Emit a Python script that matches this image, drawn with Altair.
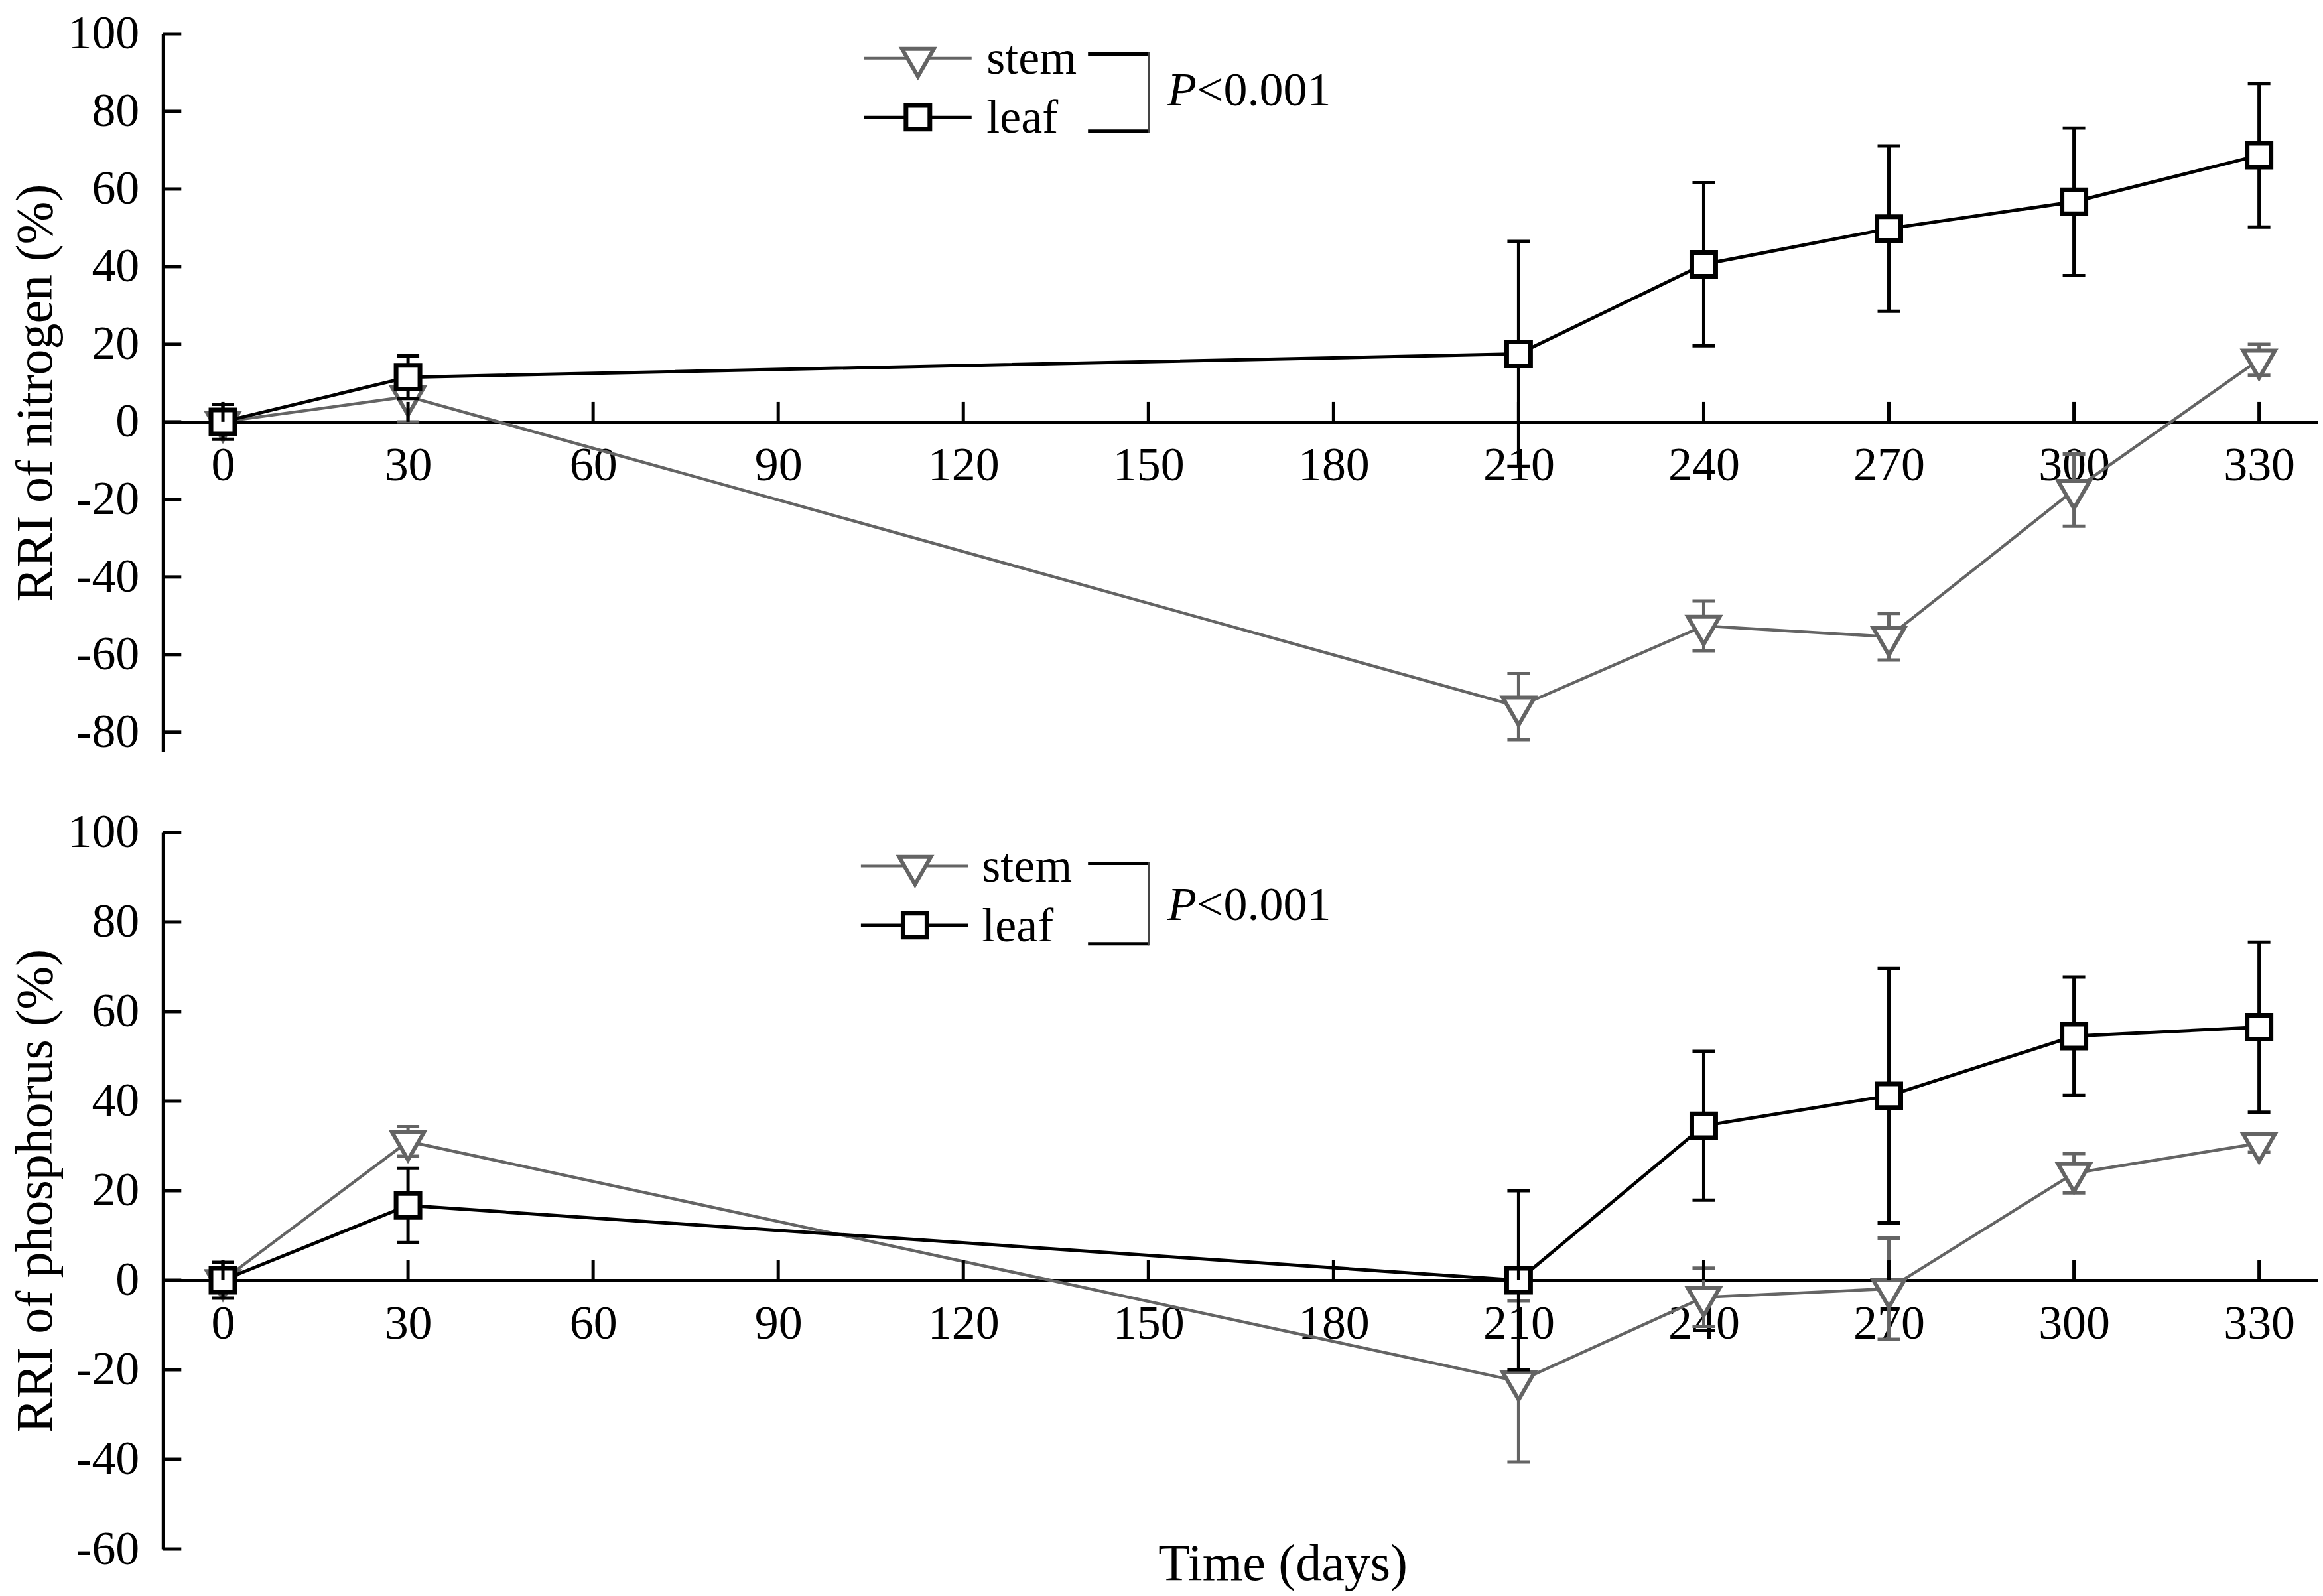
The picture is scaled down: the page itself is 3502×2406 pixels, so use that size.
import altair as alt
import pandas as pd

# ---------------- data ----------------
days = [0, 30, 210, 240, 270, 300, 330]

n_stem = [0.0, 6.5, -73.4, -52.6, -55.4, -17.6, 16.0]
n_stem_err = [3.0, 6.5, 8.5, 6.4, 6.0, 9.3, 4.0]
n_leaf = [0.0, 11.5, 17.5, 40.6, 49.8, 56.7, 68.7]
n_leaf_err = [4.5, 5.5, 29.0, 21.0, 21.3, 19.0, 18.5]

p_stem = [0.0, 31.0, -22.6, -3.8, -1.9, 23.9, 30.6]
p_stem_err = [2.5, 3.3, 18.0, 6.5, 11.3, 4.4, 2.0]
p_leaf = [0.0, 16.7, 0.0, 34.5, 41.2, 54.5, 56.5]
p_leaf_err = [4.0, 8.3, 20.0, 16.6, 28.4, 13.2, 19.0]

x_ticks = [0, 30, 60, 90, 120, 150, 180, 210, 240, 270, 300, 330]
n_y_ticks = [-80, -60, -40, -20, 0, 20, 40, 60, 80, 100]
p_y_ticks = [-60, -40, -20, 0, 20, 40, 60, 80, 100]

series_names = ["stem", "leaf"]
n_ytitle = "RRI of nitrogen (%)"
p_ytitle = "RRI of phosphorus (%)"
x_title = "Time (days)"
p_text = ["P", "<0.001"]

# ---------------- styling ----------------
FONT = "Liberation Serif"
GRAY = "#646464"
BLACK = "#000000"
W = 3251
H_TOP = 1083
H_BOT = 1081
X_DOMAIN = [-9.7, 339.5]
TRI = "M-1,-0.577L1,-0.577L0,1.155Z"
AXW = 5


def make_panel(stem, stem_err, leaf, leaf_err, ymin, H, yticks, ytitle, leg, with_xtitle):
    df = pd.DataFrame({
        "day": days,
        "stem": stem,
        "stem_lo": [v - e for v, e in zip(stem, stem_err)],
        "stem_hi": [v + e for v, e in zip(stem, stem_err)],
        "leaf": leaf,
        "leaf_lo": [v - e for v, e in zip(leaf, leaf_err)],
        "leaf_hi": [v + e for v, e in zip(leaf, leaf_err)],
    })
    xs = alt.Scale(domain=X_DOMAIN, nice=False, zero=False)
    ys = alt.Scale(domain=[ymin, 100], nice=False, zero=False)
    offset = -H * (0 - ymin) / (100 - ymin)

    xaxis = alt.Axis(values=x_ticks, ticks=False, tickSize=0, labelPadding=88,
                     labelBaseline="alphabetic", offset=offset, title=None, grid=False,
                     domainWidth=AXW, domainColor=BLACK, labelFont=FONT,
                     labelFontSize=72, labelColor=BLACK, labelFlush=False,
                     labelOverlap=False, labelBound=False)
    yaxis = alt.Axis(values=yticks, ticks=False, tickSize=0, labelPadding=36,
                     title=ytitle, titleFont=FONT, titleFontSize=78,
                     titleFontWeight="normal", titleColor=BLACK, titlePadding=8,
                     grid=False, domainWidth=AXW, domainColor=BLACK,
                     labelFont=FONT, labelFontSize=72, labelColor=BLACK,
                     labelFlush=False, labelOverlap=False,
                     labelExpr="datum.value < 0 ? '-' + abs(datum.value) : '' + datum.value")

    def X(f):
        return alt.X(f, type="quantitative", scale=xs, axis=xaxis)

    def Y(f):
        return alt.Y(f, type="quantitative", scale=ys, axis=yaxis)

    base = alt.Chart(df)
    layers = []
    for name, col, lw, shape, size, sw in [
        ("stem", GRAY, 4.5, TRI, 2300, 6),
        ("leaf", BLACK, 5, "square", 1296, 7),
    ]:
        layers.append(base.mark_line(color=col, strokeWidth=lw).encode(x=X("day"), y=Y(name)))
        layers.append(base.mark_rule(color=col, strokeWidth=5).encode(
            x=X("day"), y=Y(name + "_lo"), y2=alt.Y2(name + "_hi")))
        for end in ["_lo", "_hi"]:
            layers.append(base.mark_tick(orient="horizontal", size=34, thickness=5,
                                         color=col, opacity=1).encode(x=X("day"), y=Y(name + end)))
        layers.append(base.mark_point(shape=shape, size=size, filled=True, fill="white",
                                      stroke=col, strokeWidth=sw, opacity=1).encode(
            x=X("day"), y=Y(name)))

    # axis ticks pointing inward
    xt = pd.DataFrame({"t": x_ticks})
    layers.append(alt.Chart(xt).mark_rule(color=BLACK, strokeWidth=AXW, y2Offset=-30).encode(
        x=X("t"), y=alt.datum(0), y2=alt.datum(0)))
    yt = pd.DataFrame({"v": yticks})
    layers.append(alt.Chart(yt).mark_rule(color=BLACK, strokeWidth=AXW).encode(
        y=Y("v"), x=alt.value(0), x2=alt.value(27.5)))

    # legend (drawn as annotation)
    one = pd.DataFrame({"a": [0]})
    c1 = alt.Chart(one)
    lx1, lx2, mx, ys_, yl, tx, ts, tl, bx1, bx2, by1, by2, px, pb = leg
    layers.append(c1.mark_rule(color=GRAY, strokeWidth=4).encode(
        x=alt.value(lx1), x2=alt.value(lx2), y=alt.value(ys_)))
    layers.append(c1.mark_point(shape=TRI, size=2300, filled=True, fill="white",
                                stroke=GRAY, strokeWidth=6, opacity=1).encode(
        x=alt.value(mx), y=alt.value(ys_)))
    layers.append(c1.mark_rule(color=BLACK, strokeWidth=4.5).encode(
        x=alt.value(lx1), x2=alt.value(lx2), y=alt.value(yl)))
    layers.append(c1.mark_point(shape="square", size=1296, filled=True, fill="white",
                                stroke=BLACK, strokeWidth=7, opacity=1).encode(
        x=alt.value(mx), y=alt.value(yl)))
    for label, yy in [(series_names[0], ts), (series_names[1], tl)]:
        layers.append(c1.mark_text(font=FONT, fontSize=72, align="left", baseline="alphabetic",
                                   color=BLACK).encode(
            x=alt.value(tx), y=alt.value(yy), text=alt.value(label)))
    # bracket
    layers.append(c1.mark_rule(color=BLACK, strokeWidth=5).encode(
        x=alt.value(bx1), x2=alt.value(bx2), y=alt.value(by1)))
    layers.append(c1.mark_rule(color=BLACK, strokeWidth=5).encode(
        x=alt.value(bx1), x2=alt.value(bx2), y=alt.value(by2)))
    layers.append(c1.mark_rule(color="#444444", strokeWidth=3.5).encode(
        x=alt.value(bx2), y=alt.value(by1 - 2.5), y2=alt.value(by2 + 2.5)))
    layers.append(c1.mark_text(font=FONT, fontSize=72, fontStyle="italic", align="left",
                               baseline="alphabetic", color=BLACK).encode(
        x=alt.value(px), y=alt.value(pb), text=alt.value(p_text[0])))
    layers.append(c1.mark_text(font=FONT, fontSize=72, align="left",
                               baseline="alphabetic", color=BLACK).encode(
        x=alt.value(px + 44), y=alt.value(pb), text=alt.value(p_text[1])))

    if with_xtitle:
        layers.append(c1.mark_text(font=FONT, fontSize=78, align="center",
                                   baseline="alphabetic", color=BLACK).encode(
            x=alt.datum(171.8), y=alt.value(H + 47), text=alt.value(x_title)))

    return alt.layer(*layers).properties(width=W, height=H)


top = make_panel(n_stem, n_stem_err, n_leaf, n_leaf_err, -85, H_TOP, n_y_ticks, n_ytitle,
                 (1058, 1220, 1139, 36.7, 126, 1242.6, 60, 149,
                  1395.6, 1487.6, 30.5, 147, 1515.6, 108.6), False)
bottom = make_panel(p_stem, p_stem_err, p_leaf, p_leaf_err, -60, H_BOT, p_y_ticks, p_ytitle,
                    (1053, 1215, 1134.6, 50.6, 140, 1235.6, 74.6, 164,
                     1395.6, 1487.6, 46.6, 168, 1515.6, 132.3), True)

chart = alt.vconcat(top, bottom, spacing=122, bounds="flush").properties(
    padding={"left": 8, "top": 6, "right": 0, "bottom": 0},
    background="white",
).configure_view(stroke=None)

chart.save("out.html", embed_options={"renderer": "svg", "actions": False})
